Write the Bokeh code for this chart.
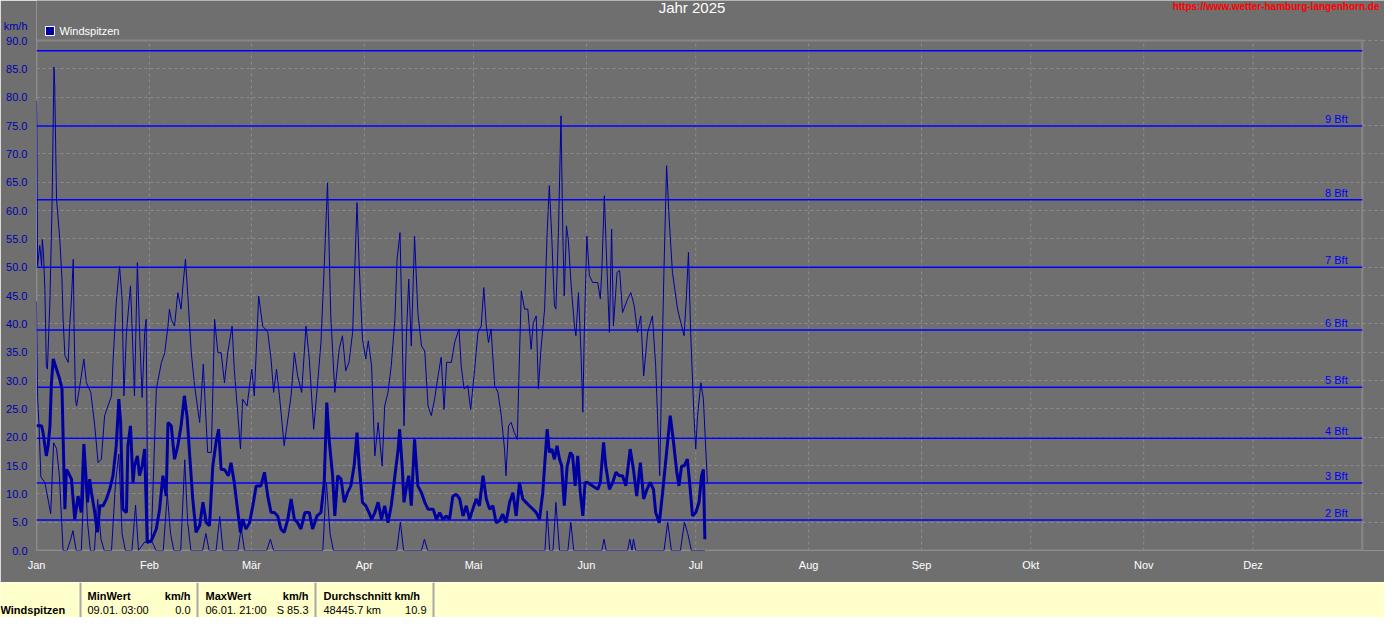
from bokeh.plotting import figure
from bokeh.models import Range1d, FixedTicker, NumeralTickFormatter
from bokeh.layouts import column, row
from bokeh.embed import file_html
from bokeh.resources import INLINE
from bokeh.core.properties import value

# ---------------- data ----------------
month_days = [0, 31, 59, 90, 120, 151, 181, 212, 243, 273, 304, 334]
month_names = ["Jan", "Feb", "Mär", "Apr", "Mai", "Jun", "Jul", "Aug", "Sep", "Okt", "Nov", "Dez"]
year_end = 364
y_max = 90
y_ticks = list(range(0, 91, 5))

bft_levels = [5.4, 11.9, 19.8, 28.8, 38.9, 50.0, 61.9, 74.9, 88.2]
bft_names = ["2 Bft", "3 Bft", "4 Bft", "5 Bft", "6 Bft", "7 Bft", "8 Bft", "9 Bft"]

# daily gust maxima (thin upper line)
max_day = [
    0.0, 0.1, 0.3, 0.9, 1.4, 1.6, 1.9, 2.3, 2.7, 3.0,
    3.7, 4.3, 4.8, 5.0, 5.5, 6.4, 7.0, 7.3, 7.8, 8.7,
    9.1, 9.6, 10.1, 10.3, 10.7, 11.0, 11.9, 13.0, 13.7, 14.9,
    16.0, 16.9, 17.8, 18.7, 20.6, 21.0, 21.9, 22.8, 23.5, 24.0,
    24.7, 25.8, 26.3, 26.9, 27.7, 28.3, 29.0, 29.7, 30.1, 30.6,
    31.5, 32.9, 34.3, 35.2, 36.1, 36.5, 37.0, 37.9, 38.8, 39.7,
    40.2, 40.9, 41.6, 42.5, 43.4, 44.8, 45.8, 46.3, 47.0, 48.0,
    48.9, 49.8, 50.7, 51.6, 52.5, 53.7, 54.3, 55.3, 56.0, 56.6,
    57.8, 59.1, 59.8, 61.0, 62.1, 63.5, 64.4, 65.1, 65.9, 66.7,
    68.0, 69.9, 70.8, 71.7, 72.8, 74.0, 74.9, 76.1, 77.2, 78.1,
    79.0, 79.9, 80.8, 81.9, 83.1, 84.0, 84.9, 85.8, 86.8, 88.0,
    88.6, 89.5, 90.4, 91.1, 92.0, 92.9, 93.8, 94.9, 95.6, 96.5,
    97.4, 98.4, 99.0, 99.8, 100.4, 100.9, 101.6, 102.2, 102.9, 103.8,
    104.7, 105.7, 106.6, 107.5, 108.4, 109.3, 110.4, 111.1, 111.9, 112.6,
    113.9, 114.8, 116.0, 116.6, 117.4, 118.4, 119.2, 120.3, 121.2, 122.1,
    122.8, 123.5, 124.1, 124.8, 125.8, 126.7, 127.6, 128.5, 128.9, 129.6,
    130.3, 131.2, 132.0, 132.4, 133.1, 134.0, 134.9, 135.8, 136.4, 137.2,
    137.8, 138.5, 139.5, 140.2, 140.8, 141.5, 142.2, 142.6, 143.3, 144.0,
    144.5, 144.9, 145.5, 146.0, 146.8, 147.7, 148.1, 148.8, 149.5, 150.0,
    150.4, 151.1, 151.8, 152.7, 154.1, 154.8, 155.2, 155.9, 156.6, 157.3,
    157.9, 158.4, 159.4, 160.1, 160.9, 162.3, 163.2, 164.1, 165.0, 165.9,
    166.7, 167.8, 169.1, 170.0, 170.5, 171.1, 171.7, 172.3, 173.0, 173.7,
    174.6, 176.0, 176.9, 177.8, 178.4, 179.0, 179.6, 180.5, 181.0, 181.5,
    182.4, 183.1, 184.2,
]
max_val = [
    79.4, 75.5, 50.2, 53.8, 50.2, 54.9, 52.6, 46.1, 32.6, 32.0,
    44.4, 62.0, 85.3, 82.0, 62.0, 54.9, 47.9, 40.8, 34.4, 33.2,
    39.6, 44.4, 51.4, 40.2, 26.7, 25.5, 29.1, 33.8, 29.6, 27.9,
    22.0, 15.5, 16.1, 23.8, 27.3, 33.2, 43.8, 50.2, 44.4, 27.3,
    38.5, 46.7, 38.5, 27.3, 50.8, 38.5, 27.0, 38.5, 40.8, 1.5,
    1.5, 28.5, 33.2, 34.9, 39.6, 42.6, 40.8, 39.6, 45.5, 42.6,
    46.7, 51.4, 44.4, 34.9, 29.1, 22.6, 32.9, 26.1, 17.3, 17.3,
    40.8, 34.9, 34.9, 29.6, 34.9, 39.6, 32.0, 23.8, 17.9, 26.7,
    25.5, 32.0, 27.3, 44.9, 39.6, 38.5, 33.8, 27.9, 32.0, 27.3,
    18.5, 27.3, 34.9, 30.8, 27.9, 39.6, 33.8, 21.4, 29.6, 36.7,
    50.2, 64.9, 41.4, 27.9, 35.5, 37.9, 31.7, 33.2, 38.5, 61.4,
    50.2, 37.3, 33.8, 37.0, 32.6, 16.7, 22.6, 14.9, 25.5, 27.9,
    32.6, 40.8, 51.4, 56.1, 38.5, 22.0, 38.5, 47.9, 36.1, 55.5,
    42.0, 36.1, 35.2, 25.5, 23.8, 26.7, 31.4, 34.1, 24.9, 33.2,
    33.2, 36.7, 39.1, 32.6, 28.5, 29.1, 24.9, 32.0, 38.5, 39.6,
    46.4, 39.6, 36.7, 39.1, 29.1, 27.9, 23.8, 17.9, 13.2, 22.0,
    22.6, 20.8, 19.6, 29.6, 45.8, 42.6, 42.6, 35.5, 40.2, 41.4,
    28.5, 35.5, 42.6, 56.1, 64.4, 54.9, 43.2, 42.6, 56.1, 76.7,
    56.1, 44.9, 57.3, 54.9, 46.7, 39.6, 37.9, 45.5, 34.9, 24.4,
    38.5, 55.5, 48.5, 47.3, 47.3, 44.4, 49.1, 62.6, 50.2, 38.5,
    56.7, 39.6, 49.1, 49.4, 42.0, 44.4, 45.5, 43.2, 38.5, 41.4,
    30.8, 38.5, 41.4, 32.6, 23.8, 13.2, 32.6, 50.2, 67.9, 58.5,
    49.1, 42.6, 40.2, 37.9, 44.4, 52.6, 38.5, 23.8, 17.9, 23.8,
    29.6, 26.7, 12.0,
]

# daily mean (thick line)
avg_day = [
    0.0, 0.5, 1.4, 1.8, 2.7, 3.2, 3.7, 4.1, 4.6, 5.5,
    6.4, 7.0, 7.5, 7.8, 8.2, 8.7, 9.6, 10.5, 11.4, 12.3,
    13.0, 13.4, 14.0, 14.6, 15.1, 16.0, 16.7, 17.4, 18.3, 19.2,
    20.1, 21.0, 21.9, 22.6, 23.1, 23.7, 24.7, 25.1, 25.8, 26.5,
    26.9, 27.7, 28.3, 29.0, 29.7, 30.4, 31.5, 32.9, 33.8, 34.7,
    35.6, 36.1, 37.0, 37.9, 38.8, 39.7, 40.6, 41.4, 42.0, 42.9,
    43.8, 44.8, 45.7, 46.6, 47.5, 48.4, 49.3, 50.0, 50.7, 51.6,
    52.7, 53.4, 54.3, 55.3, 56.0, 56.6, 57.5, 58.5, 59.4, 60.3,
    61.6, 62.6, 63.5, 64.4, 65.3, 66.2, 67.1, 68.0, 69.0, 69.9,
    70.8, 71.7, 72.6, 73.7, 74.9, 75.8, 77.0, 78.1, 79.0, 79.7,
    80.4, 81.3, 81.9, 82.7, 83.6, 84.5, 85.4, 86.3, 87.2, 88.0,
    88.6, 89.5, 90.4, 91.3,
    92.0, 92.9, 93.8, 94.7, 95.6, 96.5, 97.4, 98.4, 99.3, 99.7,
    100.4, 100.9, 101.6, 102.2, 102.9, 103.8, 104.7, 105.7, 106.6, 107.5,
    108.9, 109.8, 110.7, 111.6, 112.5, 113.4, 114.3, 115.3, 116.2, 117.1,
    118.0, 118.9, 119.8, 120.7, 121.6, 122.6, 123.5, 124.4, 125.3, 126.2,
    127.1, 128.0, 128.9, 129.9, 130.8, 131.7, 132.6, 133.5, 134.4, 135.3,
    136.3, 137.2, 138.1, 139.0, 139.5, 140.2, 140.8, 141.5, 142.2, 142.9,
    143.6, 144.2, 144.9, 145.7, 146.6, 147.2, 147.9, 148.6, 149.3, 150.0,
    150.6, 151.3, 152.7, 154.1, 154.8, 155.7, 156.3, 157.3, 158.2, 159.1,
    160.0, 160.9, 161.8, 163.0, 163.9, 164.8, 165.8, 166.7, 167.6, 168.5,
    169.4, 170.0, 171.0, 171.9, 172.8, 174.0, 174.9, 175.8, 176.4, 177.1,
    177.8, 178.7, 179.4, 180.1, 181.0, 181.9, 182.6, 183.1, 183.5,
]
avg_val = [
    22.0, 22.0, 22.0, 20.8, 16.7, 18.5, 22.0, 29.6, 33.8, 32.0,
    30.2, 28.5, 14.9, 7.3, 14.3, 13.8, 12.6, 5.5, 9.6, 6.7,
    18.8, 14.9, 8.5, 12.6, 10.2, 6.7, 3.2, 7.9, 7.9, 9.1,
    10.8, 13.2, 18.5, 26.7, 22.6, 7.3, 6.7, 18.5, 22.0, 12.0,
    14.9, 16.7, 13.2, 14.9, 17.9, 1.4, 1.7, 3.8, 7.3, 13.2,
    9.6, 22.6, 22.0, 16.1, 18.5, 22.0, 27.3, 23.2, 17.3, 9.1,
    3.2, 4.4, 8.5, 4.9, 4.4, 14.9, 19.1, 21.4, 14.3, 14.3,
    13.2, 15.5, 12.0, 6.7, 3.2, 5.5, 3.8, 4.9, 7.9, 11.4,
    11.4, 13.8, 9.6, 6.7, 6.7, 6.1, 3.8, 3.2, 5.5, 9.1,
    5.5, 4.9, 3.8, 6.7, 6.7, 3.8, 6.1, 6.7, 12.0, 26.1,
    19.1, 13.2, 6.1, 13.2, 12.6, 8.5, 10.2, 11.4, 14.9, 20.8,
    14.9, 8.5, 7.9, 6.7,
    5.5, 6.7, 8.5, 5.5, 7.9, 4.9, 7.9, 13.2, 17.9, 21.4,
    14.9, 8.5, 11.4, 13.2, 7.9, 19.6, 11.4, 10.2, 8.5, 7.3,
    7.3, 5.5, 6.7, 5.5, 6.1, 5.5, 9.6, 9.9, 9.1, 6.1,
    7.9, 5.5, 7.3, 9.1, 7.9, 13.2, 9.1, 7.3, 7.9, 4.9,
    5.2, 6.4, 4.9, 8.5, 10.2, 6.1, 12.0, 9.1, 8.5, 7.9,
    7.3, 6.7, 5.5, 10.2, 14.9, 21.4, 17.3, 17.9, 16.1, 18.5,
    16.1, 14.9, 7.9, 14.9, 17.3, 16.7, 11.4, 16.7, 10.2, 6.1,
    12.0, 12.0, 11.4, 10.8, 12.0, 19.1, 14.9, 10.8, 12.0, 13.8,
    13.2, 13.2, 11.4, 17.9, 14.3, 9.6, 15.5, 9.1, 10.8, 12.0,
    10.8, 6.7, 4.9, 10.2, 16.1, 23.8, 19.1, 13.8, 11.4, 14.9,
    14.9, 16.1, 11.4, 6.1, 6.7, 8.5, 13.2, 14.3, 2.0,
]

# daily minimum (thin lower line)
min_day = [
    0.0, 0.3, 0.7, 1.2, 2.3, 3.9, 4.7, 5.5, 6.3, 7.3,
    8.4, 9.4, 10.0, 10.9, 12.3, 13.3, 14.0, 14.8, 15.9, 16.8,
    17.7, 18.6, 20.6, 21.7, 22.6, 23.5, 24.4, 26.2, 27.2, 28.0,
    29.7, 31.8, 32.8, 34.8, 35.9, 36.8, 37.7, 39.6, 40.7, 41.5,
    42.4, 45.6, 46.5, 47.4, 49.3, 50.3, 51.2, 55.3, 56.2, 57.1,
    63.2, 64.2, 65.1, 78.6, 79.6, 80.6, 81.5, 98.9, 99.9, 100.8,
    105.7, 106.5, 107.4, 139.6, 140.2, 140.9, 141.8, 142.6, 143.6, 145.9,
    146.7, 147.5, 155.2, 155.8, 156.4, 162.3, 162.9, 163.5, 163.9, 164.5,
    172.3, 173.3, 174.3, 176.8, 177.9, 178.8, 179.8, 183.5,
]
min_val = [
    44.0, 27.0, 22.0, 13.0, 12.0, 6.5, 19.0, 18.0, 13.0, 0.0,
    0.0, 2.0, 3.5, 0.0, 0.0, 16.0, 5.0, 0.0, 0.0, 9.0,
    2.0, 0.0, 0.0, 12.0, 17.0, 3.0, 0.0, 0.0, 8.0, 0.0,
    1.5, 1.5, 0.0, 0.0, 10.0, 3.0, 0.0, 0.0, 16.0, 5.0,
    0.0, 0.0, 3.0, 0.0, 0.0, 6.0, 0.0, 0.0, 4.0, 0.0,
    0.0, 2.0, 0.0, 0.0, 12.0, 3.0, 0.0, 0.0, 5.0, 0.0,
    0.0, 2.0, 0.0, 0.0, 7.0, 0.0, 0.0, 8.5, 0.0, 0.0,
    5.0, 0.0, 0.0, 2.0, 0.0, 0.0, 2.0, 0.0, 2.0, 0.0,
    0.0, 5.0, 0.0, 0.0, 5.0, 3.0, 0.0, 0.0,
]

title_text = "Jahr 2025"
url_text = "https://www.wetter-hamburg-langenhorn.de"
series_name = "Windspitzen"
unit = "km/h"
unit_pos = 92.6          # the unit sits just above the 90.0 tick, in the axis column
min_when, min_value = "09.01.  03:00", 0.0
max_when, max_value = "06.01.  21:00", 85.3
sum_km, mean_value = 48445.7, 10.9

# ---------------- style ----------------
W = 1384
BG = "#6f6f6f"
SERIES = "#0000a0"
BFT = "#0000ff"
AXIS_BLUE = "#0000b0"
GRID = "#8e8e8e"
FONT = "Liberation Sans"

# ---------------- main chart (frame reaches up to the top of the page) ----------------
p = figure(width=W, height=582, x_range=Range1d(0, 370.1), y_range=Range1d(0, 97.06),
           output_backend="svg", toolbar_location=None,
           min_border_left=33, min_border_right=0, min_border_top=0, min_border_bottom=32)
p.background_fill_color = BG
p.border_fill_color = BG
p.outline_line_color = None
# page-pixel coordinate system for the header texts (page = canvas + 8px margin)
p.extra_x_ranges = {"px": Range1d(41, 1392)}
p.extra_y_ranges = {"py": Range1d(558, 8)}

p.xaxis.ticker = FixedTicker(ticks=month_days)
p.xaxis.major_label_overrides = {d: n for d, n in zip(month_days, month_names)}
p.yaxis.ticker = FixedTicker(ticks=y_ticks + [unit_pos])
p.yaxis.formatter = NumeralTickFormatter(format="0.0")
p.yaxis.major_label_overrides = {unit_pos: unit}
for ax in (p.xaxis[0], p.yaxis[0]):
    ax.axis_line_color = None
    ax.major_tick_line_color = None
    ax.minor_tick_line_color = None
    ax.major_label_text_font = FONT
    ax.major_label_text_font_size = "11px"
p.xaxis.major_label_text_color = "white"
p.xaxis.major_label_standoff = 2
p.yaxis.major_label_text_color = AXIS_BLUE
p.yaxis.major_label_standoff = 3

p.xgrid.visible = False
p.ygrid.ticker = FixedTicker(ticks=y_ticks)
p.ygrid.grid_line_color = GRID
p.ygrid.grid_line_dash = "3 3"

# month grid lines, limited to the value range
p.segment(x0=month_days, y0=[0] * len(month_days), x1=month_days, y1=[y_max] * len(month_days),
          line_color=GRID, line_dash="3 3", line_width=1)
# plot frame
p.quad(left=[0], right=[year_end], bottom=[0], top=[y_max], fill_color=None,
       line_color="#878787", line_width=2)
# Beaufort limits
p.segment(x0=[0] * len(bft_levels), y0=bft_levels, x1=[year_end] * len(bft_levels), y1=bft_levels,
          line_color=BFT, line_width=1.5)
p.text(x=[360] * len(bft_names), y=bft_levels[:len(bft_names)], text=bft_names,
       text_align="right", text_baseline="bottom", y_offset=-1,
       text_color=BFT, text_font_size="11px", text_font=value(FONT))

p.line(max_day, max_val, line_color=SERIES, line_width=1)
p.line(min_day, min_val, line_color=SERIES, line_width=1)
p.line(avg_day, avg_val, line_color=SERIES, line_width=3)

# header texts and legend swatch
hk = dict(x_range_name="px", y_range_name="py", text_baseline="middle", text_font=value(FONT))
p.text(x=[698], y=[15], text=[title_text], text_align="center", text_color="white",
       text_font_size="15px", **hk)
p.text(x=[1387], y=[14], text=[url_text], text_align="right", text_color="#ff0000",
       text_font_size="10px", text_font_style="bold", **hk)
p.quad(left=[50], right=[59], top=[34], bottom=[43], fill_color=SERIES, line_color="white",
       line_width=1, x_range_name="px", y_range_name="py")
p.text(x=[64], y=[38], text=[series_name], text_align="left", text_color="white",
       text_font_size="11px", **hk)

# ---------------- footer table ----------------
ftr = figure(width=W, height=35, x_range=Range1d(8, 8 + W), y_range=Range1d(625, 590),
             output_backend="svg", toolbar_location=None, min_border=0,
             x_axis_location=None, y_axis_location=None)
ftr.grid.visible = False
ftr.outline_line_color = None
ftr.background_fill_color = "#ffffcc"
ftr.border_fill_color = "#ffffcc"


def put(x, y, t, align="left", bold=False):
    ftr.text(x=[x], y=[y], text=[t], text_align=align, text_baseline="middle",
             text_color="black", text_font_size="11px", text_font=value(FONT),
             text_font_style="bold" if bold else "normal")


r1, r2 = 603, 617
put(8, r2, series_name, bold=True)
put(95, r1, "MinWert", bold=True)
put(198, r1, unit, "right", bold=True)
put(95, r2, min_when)
put(198, r2, f"{min_value:.1f}", "right")
put(213, r1, "MaxWert", bold=True)
put(316, r1, unit, "right", bold=True)
put(213, r2, max_when)
put(316, r2, f"S {max_value:.1f}", "right")
put(331, r1, "Durchschnitt " + unit, bold=True)
put(331, r2, f"{sum_km:.1f} km")
put(434, r2, f"{mean_value:.1f}", "right")
seps = [88, 205, 323, 441]
ftr.segment(x0=seps, y0=[590] * 4, x1=seps, y1=[625] * 4, line_color="#a8a8a8", line_width=2)

layout = column(p, row(ftr), spacing=0)
open("out.html", "w").write(file_html(layout, INLINE))
